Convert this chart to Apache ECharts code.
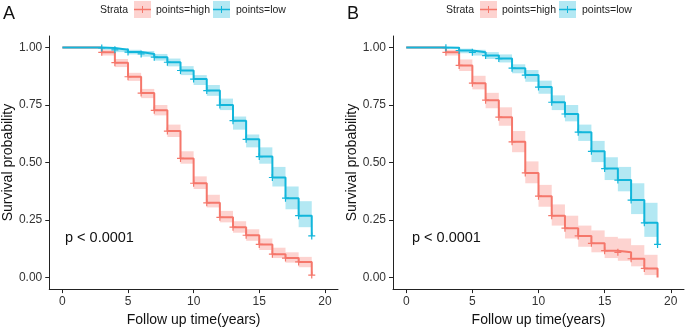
<!DOCTYPE html>
<html>
<head>
<meta charset="utf-8">
<script src="https://cdn.jsdelivr.net/npm/echarts@6/dist/echarts.min.js"></script>
<style>
  html, body { margin: 0; padding: 0; background: #fff; }
  #main { width: 685px; height: 332px; }
</style>
</head>
<body>
<div id="main"></div>
<script>
// follow up times (years) where the curves step
const times = [0, 3, 4, 5, 6, 7, 8, 9, 10, 11, 12, 13, 14, 15, 16, 17, 18, 19]

// panel A
const highA = [1, 0.979, 0.934, 0.873, 0.802, 0.727, 0.637, 0.518, 0.41, 0.325, 0.262, 0.219, 0.184, 0.144, 0.102, 0.085, 0.068, 0.011]
const highA_lo = [1, 0.965, 0.915, 0.855, 0.78, 0.705, 0.611, 0.495, 0.385, 0.305, 0.24, 0.195, 0.16, 0.12, 0.085, 0.065, 0.045, null]
const highA_hi = [1, 0.99, 0.95, 0.89, 0.82, 0.75, 0.665, 0.549, 0.44, 0.36, 0.29, 0.245, 0.21, 0.17, 0.13, 0.11, 0.09, null]
const lowA = [1, 0.998, 0.99, 0.98, 0.972, 0.958, 0.936, 0.9, 0.863, 0.813, 0.75, 0.682, 0.601, 0.526, 0.435, 0.345, 0.269, 0.181]
const lowA_lo = [1, 0.99, 0.98, 0.97, 0.96, 0.943, 0.918, 0.88, 0.837, 0.79, 0.728, 0.643, 0.566, 0.495, 0.396, 0.297, 0.219, null]
const lowA_hi = [1, 1, 0.997, 0.99, 0.985, 0.972, 0.952, 0.919, 0.88, 0.837, 0.778, 0.7, 0.622, 0.566, 0.481, 0.396, 0.332, null]

// panel B
const highB = [1, 0.979, 0.922, 0.845, 0.771, 0.697, 0.59, 0.455, 0.354, 0.269, 0.215, 0.181, 0.149, 0.117, 0.11, 0.082, 0.04, 0]
const highB_lo = [1, 0.965, 0.898, 0.818, 0.736, 0.66, 0.545, 0.41, 0.308, 0.226, 0.17, 0.134, 0.11, 0.085, 0.073, 0.049, 0.011, null]
const highB_hi = [1, 0.99, 0.948, 0.877, 0.803, 0.74, 0.637, 0.505, 0.403, 0.318, 0.269, 0.226, 0.205, 0.177, 0.17, 0.141, 0.099, null]
const lowB = [1, 0.999, 0.987, 0.979, 0.965, 0.952, 0.91, 0.88, 0.828, 0.762, 0.711, 0.632, 0.549, 0.474, 0.424, 0.337, 0.238, 0.144]
const lowB_lo = [1, 0.995, 0.975, 0.965, 0.95, 0.935, 0.888, 0.851, 0.799, 0.728, 0.679, 0.594, 0.502, 0.424, 0.375, 0.276, 0.177, null]
const lowB_hi = [1, 1, 0.995, 0.99, 0.98, 0.97, 0.927, 0.902, 0.856, 0.792, 0.75, 0.665, 0.594, 0.523, 0.481, 0.41, 0.325, null]

// censored marks (1 = cross drawn at that time)
const censorAll = [0, 1, 1, 1, 1, 1, 1, 1, 1, 1, 1, 1, 1, 1, 1, 1, 1, 1]
const censorHighB = [0, 1, 1, 1, 1, 1, 1, 1, 1, 1, 1, 1, 1, 1, 1, 1, 1, 0]

const xTicks = [0, 5, 10, 15, 20]
const yTicks = [0, 0.25, 0.5, 0.75, 1]

const RED = '#F5776B'
const BLUE = '#12B6DB'
const RED_FILL = 'rgba(248,118,109,0.32)'
const BLUE_FILL = 'rgba(18,182,219,0.32)'
const FONT = 'Liberation Sans, Arial, sans-serif'

function stepData(s) {
  return times.map((t, i) => [t, s[i]])
}
function bandData(lo, hi) {
  const out = []
  for (let i = 1; i < times.length - 1; i++) {
    out.push([times[i], times[i + 1], lo[i], hi[i]])
  }
  return out
}
function censorData(s, flags) {
  return times.map((t, i) => [t, s[i]]).filter((d, i) => flags[i])
}

function bandSeries(idx, lo, hi, fill) {
  return {
    type: 'custom',
    xAxisIndex: idx,
    yAxisIndex: idx,
    z: 1,
    silent: true,
    data: bandData(lo, hi),
    renderItem: function (params, api) {
      const p0 = api.coord([api.value(0), api.value(3)])
      const p1 = api.coord([api.value(1), api.value(2)])
      return {
        type: 'rect',
        shape: { x: p0[0], y: p0[1], width: p1[0] - p0[0], height: p1[1] - p0[1] },
        style: { fill: fill }
      }
    }
  }
}
function lineSeries(idx, s, color, z) {
  return {
    type: 'line',
    xAxisIndex: idx,
    yAxisIndex: idx,
    step: 'end',
    showSymbol: false,
    z: z,
    data: stepData(s),
    lineStyle: { color: color, width: 2 }
  }
}
function crossSeries(idx, s, flags, color, z) {
  return {
    type: 'scatter',
    xAxisIndex: idx,
    yAxisIndex: idx,
    z: z,
    symbol: 'path://M5,0L5,10M0,5L10,5',
    symbolSize: 7,
    data: censorData(s, flags),
    itemStyle: { color: 'transparent', borderColor: color, borderWidth: 1.2, opacity: 1 }
  }
}

function xAxisOf(idx) {
  return {
    gridIndex: idx,
    type: 'value',
    min: -1,
    max: 21,
    name: 'Follow up time(years)',
    nameLocation: 'middle',
    nameGap: 23,
    nameTextStyle: { fontSize: 14, color: '#111', fontFamily: FONT },
    axisLine: { onZero: false, lineStyle: { color: '#222', width: 1 } },
    axisTick: { show: true, length: 4, lineStyle: { color: '#222' }, customValues: xTicks },
    axisLabel: { fontSize: 12, color: '#333', margin: 7, fontFamily: FONT, customValues: xTicks },
    splitLine: { show: false }
  }
}
function yAxisOf(idx) {
  return {
    gridIndex: idx,
    type: 'value',
    min: -0.05,
    max: 1.05,
    name: 'Survival probability',
    nameLocation: 'middle',
    nameGap: 33,
    nameTextStyle: { fontSize: 14, color: '#111', fontFamily: FONT },
    axisLine: { show: true, onZero: false, lineStyle: { color: '#222', width: 1 } },
    axisTick: { show: true, length: 4, lineStyle: { color: '#222' }, customValues: yTicks },
    axisLabel: {
      fontSize: 12, color: '#333', margin: 7, fontFamily: FONT, customValues: yTicks,
      formatter: v => v.toFixed(2)
    },
    splitLine: { show: false }
  }
}

// legend key: light box + line + short tick
function legendKey(x, color, fill) {
  return [
    { type: 'rect', shape: { x: x, y: 1, width: 17, height: 17 }, style: { fill: fill } },
    { type: 'line', shape: { x1: x, y1: 9.5, x2: x + 17, y2: 9.5 }, style: { stroke: color, lineWidth: 1.5 } },
    { type: 'line', shape: { x1: x + 8.5, y1: 6, x2: x + 8.5, y2: 13 }, style: { stroke: color, lineWidth: 1 } }
  ]
}
function legendOf(x0) {
  const txt = { fontSize: 10.5, fill: '#222', fontFamily: FONT, verticalAlign: 'middle' }
  return [
    { type: 'text', x: x0, y: 10, style: Object.assign({ text: 'Strata' }, txt) },
    ...legendKey(x0 + 34, RED, RED_FILL),
    { type: 'text', x: x0 + 56, y: 10, style: Object.assign({ text: 'points=high' }, txt) },
    ...legendKey(x0 + 113, BLUE, BLUE_FILL),
    { type: 'text', x: x0 + 136, y: 10, style: Object.assign({ text: 'points=low' }, txt) }
  ]
}

const chart = echarts.init(document.getElementById('main'), null, { renderer: 'canvas' })
chart.setOption({
  animation: false,
  backgroundColor: '#fff',
  grid: [
    { left: 47, top: 36, width: 291, height: 259 },
    { left: 393, top: 36, width: 291, height: 259 }
  ],
  xAxis: [xAxisOf(0), xAxisOf(1)],
  yAxis: [yAxisOf(0), yAxisOf(1)],
  graphic: [
    { type: 'text', x: 3, y: 5, style: { text: 'A', fontSize: 18, fill: '#111', fontFamily: FONT } },
    { type: 'text', x: 347, y: 5, style: { text: 'B', fontSize: 18, fill: '#111', fontFamily: FONT } },
    { type: 'text', x: 65, y: 238, style: { text: 'p < 0.0001', fontSize: 14.5, fill: '#111', fontFamily: FONT, verticalAlign: 'middle' } },
    { type: 'text', x: 412, y: 238, style: { text: 'p < 0.0001', fontSize: 14.5, fill: '#111', fontFamily: FONT, verticalAlign: 'middle' } },
    ...legendOf(100),
    ...legendOf(446)
  ],
  series: [
    bandSeries(0, highA_lo, highA_hi, RED_FILL),
    bandSeries(0, lowA_lo, lowA_hi, BLUE_FILL),
    lineSeries(0, highA, RED, 3),
    lineSeries(0, lowA, BLUE, 4),
    crossSeries(0, highA, censorAll, RED, 5),
    crossSeries(0, lowA, censorAll, BLUE, 6),

    bandSeries(1, highB_lo, highB_hi, RED_FILL),
    bandSeries(1, lowB_lo, lowB_hi, BLUE_FILL),
    lineSeries(1, highB, RED, 3),
    lineSeries(1, lowB, BLUE, 4),
    crossSeries(1, highB, censorHighB, RED, 5),
    crossSeries(1, lowB, censorAll, BLUE, 6)
  ]
})
</script>
</body>
</html>
